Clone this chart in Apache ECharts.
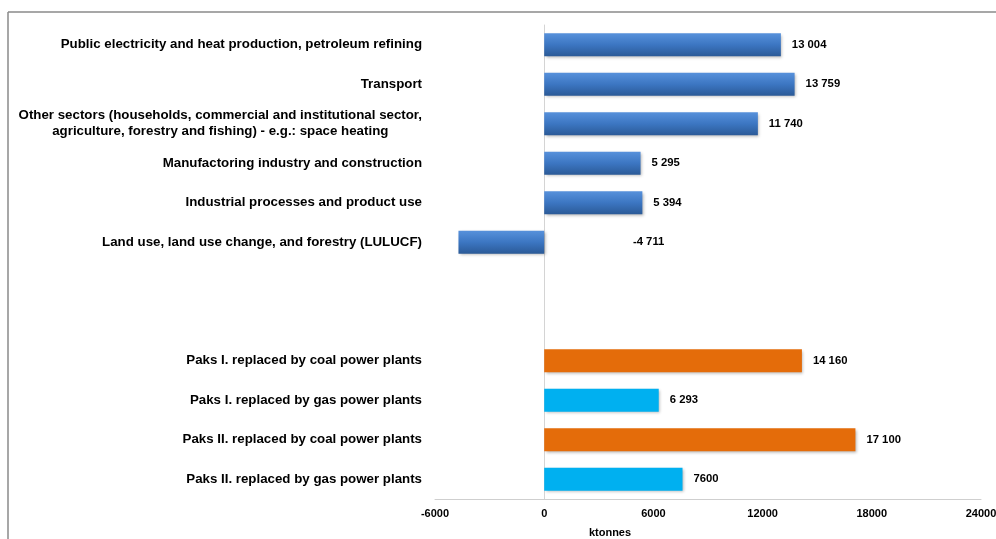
<!DOCTYPE html>
<html>
<head>
<meta charset="utf-8">
<script src="https://cdn.jsdelivr.net/npm/echarts@6/dist/echarts.min.js"></script>
<style>
html,body{margin:0;padding:0;background:#fff;}
#chart{width:996px;height:539px;}
</style>
</head>
<body>
<div id="chart"></div>
<script>
// Categories, top to bottom (two blank rows separate the groups)
var categories = [
  'Public electricity and heat production, petroleum refining',
  'Transport',
  'Other sectors (households, commercial and institutional sector,\nagriculture, forestry and fishing) - e.g.: space heating',
  'Manufactoring industry and construction',
  'Industrial processes and product use',
  'Land use, land use change, and forestry (LULUCF)',
  '',
  ' ',
  'Paks I. replaced by coal power plants',
  'Paks I. replaced by gas power plants',
  'Paks II. replaced by coal power plants',
  'Paks II. replaced by gas power plants'
];
var values = [13004, 13759, 11740, 5295, 5394, -4711, null, null, 14160, 6293, 17100, 7600];
var valueLabels = ['13 004', '13 759', '11 740', '5 295', '5 394', '-4 711', '', '', '14 160', '6 293', '17 100', '7600'];
var barKind = ['sector', 'sector', 'sector', 'sector', 'sector', 'sector', '', '', 'coal', 'gas', 'coal', 'gas'];
var xTicks = {min: -6000, max: 24000, interval: 6000};
var axisName = 'ktonnes';

var blueGrad = new echarts.graphic.LinearGradient(0, 0, 0, 1, [
  {offset: 0, color: '#5791db'},
  {offset: 0.5, color: '#3c76c2'},
  {offset: 1, color: '#2b5a97'}
]);
var colorFor = {sector: blueGrad, coal: '#e46c0a', gas: '#00b0f0'};
var FONT = 'Liberation Sans, Arial, sans-serif';

// reversed so first category is on top
var cats = categories.slice().reverse();
var data = values.map(function (v, i) {
  var item = {
    value: v,
    itemStyle: {color: colorFor[barKind[i]] || '#000'},
    label: {formatter: valueLabels[i]}
  };
  if (v !== null && v < 0) {
    item.label.position = ['200%', '50%'];
    item.label.align = 'left';
    item.label.verticalAlign = 'middle';
    item.label.offset = [3, 0];
  }
  return item;
}).reverse();

var chart = echarts.init(document.getElementById('chart'), null, {renderer: 'canvas'});
chart.setOption({
  animation: false,
  backgroundColor: '#fff',
  grid: {left: 435, right: 15, top: 25, bottom: 40, containLabel: false, outerBoundsMode: 'none'},
  xAxis: {
    type: 'value',
    min: xTicks.min, max: xTicks.max, interval: xTicks.interval,
    splitLine: {show: false},
    axisTick: {show: false},
    axisLine: {show: true, onZero: false, lineStyle: {color: '#cfcfcf', width: 1}},
    axisLabel: {
      margin: 9,
      color: '#000',
      fontFamily: FONT,
      fontWeight: 'bold',
      fontSize: 11,
      formatter: function (v) { return String(v); }
    },
    name: axisName,
    nameLocation: 'middle',
    nameGap: 28,
    nameTextStyle: {
      color: '#000',
      fontFamily: FONT,
      fontWeight: 'bold',
      fontSize: 11,
      padding: [0, 196, 0, 0]
    }
  },
  yAxis: {
    type: 'category',
    data: cats,
    axisTick: {show: false},
    axisLine: {show: true, onZero: true, lineStyle: {color: '#d4d4d4', width: 1}},
    splitLine: {show: false},
    axisLabel: {
      margin: 13,
      color: '#000',
      fontFamily: FONT,
      fontWeight: 'bold',
      fontSize: 13.3,
      lineHeight: 16,
      formatter: function (v) {
        return v.split('\n').map(function (s) { return '{c|' + s + '}'; }).join('\n');
      },
      rich: {
        c: {
          align: 'center',
          color: '#000',
          fontFamily: FONT,
          fontWeight: 'bold',
          fontSize: 13.3,
          lineHeight: 16
        }
      }
    }
  },
  series: [{
    type: 'bar',
    data: data,
    barWidth: 23,
    itemStyle: {
      shadowBlur: 3,
      shadowOffsetX: 1.5,
      shadowOffsetY: 1.5,
      shadowColor: 'rgba(0,0,0,0.3)'
    },
    label: {
      show: true,
      position: 'right',
      distance: 11,
      color: '#000',
      fontFamily: FONT,
      fontWeight: 'bold',
      fontSize: 11.3
    }
  }],
  graphic: [
    {type: 'line', shape: {x1: 8, y1: 12, x2: 996, y2: 12}, style: {stroke: '#8a8a8a', lineWidth: 1.5}, silent: true},
    {type: 'line', shape: {x1: 8, y1: 12, x2: 8, y2: 539}, style: {stroke: '#8a8a8a', lineWidth: 1.5}, silent: true}
  ]
});
</script>
</body>
</html>
